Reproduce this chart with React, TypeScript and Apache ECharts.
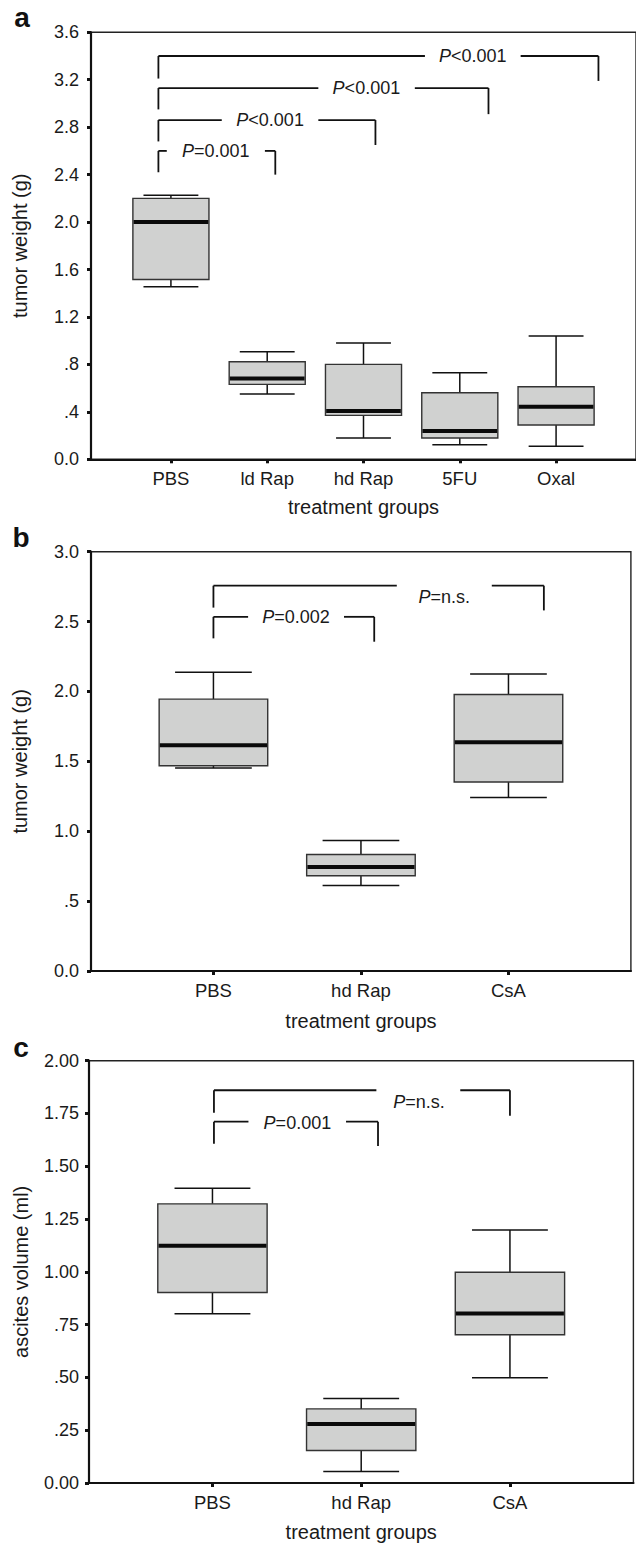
import React, { useEffect, useRef } from "react";
import * as echarts from "echarts";

// ---------- data ----------
const catsA = ["PBS", "ld Rap", "hd Rap", "5FU", "Oxal"];
// [min, q1, median, q3, max]
const boxesA = [
  [1.454, 1.516, 2.0, 2.2, 2.227],
  [0.55, 0.632, 0.682, 0.822, 0.907],
  [0.18, 0.37, 0.407, 0.8, 0.98],
  [0.123, 0.18, 0.239, 0.561, 0.73],
  [0.11, 0.289, 0.443, 0.612, 1.04],
];
const yLabelsA = ["0.0", ".4", ".8", "1.2", "1.6", "2.0", "2.4", "2.8", "3.2", "3.6"];

const catsB = ["PBS", "hd Rap", "CsA"];
const boxesB = [
  [1.452, 1.469, 1.615, 1.945, 2.137],
  [0.612, 0.682, 0.744, 0.833, 0.933],
  [1.242, 1.352, 1.637, 1.978, 2.125],
];
const yLabelsB = ["0.0", ".5", "1.0", "1.5", "2.0", "2.5", "3.0"];

const catsC = ["PBS", "hd Rap", "CsA"];
const boxesC = [
  [0.802, 0.902, 1.124, 1.322, 1.396],
  [0.055, 0.154, 0.279, 0.351, 0.4],
  [0.498, 0.702, 0.803, 0.998, 1.198],
];
const yLabelsC = ["0.00", ".25", ".50", ".75", "1.00", "1.25", "1.50", "1.75", "2.00"];

// significance brackets: [xLeft, xRight, yLine, yLeftEnd, yRightEnd, gapStart, gapEnd, textX, textY]
const bracketsA = [
  [0.87, 2.084, 2.6, 2.42, 2.4, 0.957, 1.976, 1.466, 2.6],
  [0.87, 3.124, 2.86, 2.68, 2.65, 1.528, 2.531, 2.03, 2.86],
  [0.87, 4.298, 3.13, 2.95, 2.91, 2.531, 3.533, 3.03, 3.13],
  [0.87, 5.44, 3.4, 3.21, 3.19, 3.638, 4.632, 4.135, 3.4],
];
const bracketTextA = ["=0.001", "<0.001", "<0.001", "<0.001"];

const bracketsB = [
  [1.0, 2.09, 2.534, 2.38, 2.356, 1.235, 1.885, 1.56, 2.53],
  [1.0, 3.24, 2.757, 2.6, 2.58, 2.243, 2.887, 2.565, 2.673],
];
const bracketTextB = ["=0.002", "=n.s."];

const bracketsC = [
  [1.01, 2.113, 1.711, 1.607, 1.596, 1.242, 1.898, 1.571, 1.705],
  [1.01, 3.0, 1.86, 1.753, 1.739, 2.102, 2.666, 2.388, 1.805],
];
const bracketTextC = ["=0.001", "=n.s."];

// ---------- style ----------
const FONT = "'Liberation Sans', Arial, Helvetica, sans-serif";
const TXT = "#1a1a1a";

function boxSeries(idx: number, boxes: number[][], boxW: number, capW: number) {
  return {
    type: "custom",
    xAxisIndex: idx,
    yAxisIndex: idx,
    data: boxes.map((b, i) => [i + 1, ...b]),
    renderItem: (params: any, api: any) => {
      const x = api.value(0);
      const lo = api.coord([x, api.value(1)]);
      const q1 = api.coord([x, api.value(2)]);
      const md = api.coord([x, api.value(3)]);
      const q3 = api.coord([x, api.value(4)]);
      const hi = api.coord([x, api.value(5)]);
      const bw = api.size([boxW, 0])[0];
      const cw = api.size([capW, 0])[0];
      const cx = lo[0];
      const ls = { stroke: "#111", lineWidth: 1.5 };
      return {
        type: "group",
        children: [
          { type: "line", shape: { x1: cx, y1: hi[1], x2: cx, y2: q3[1] }, style: ls },
          { type: "line", shape: { x1: cx, y1: q1[1], x2: cx, y2: lo[1] }, style: ls },
          { type: "line", shape: { x1: cx - cw / 2, y1: hi[1], x2: cx + cw / 2, y2: hi[1] }, style: ls },
          { type: "line", shape: { x1: cx - cw / 2, y1: lo[1], x2: cx + cw / 2, y2: lo[1] }, style: ls },
          {
            type: "rect",
            shape: { x: cx - bw / 2, y: q3[1], width: bw, height: q1[1] - q3[1] },
            style: { fill: "#d0d1d0", stroke: "#333", lineWidth: 1.4 },
          },
          {
            type: "line",
            shape: { x1: cx - bw / 2 + 0.7, y1: md[1], x2: cx + bw / 2 - 0.7, y2: md[1] },
            style: { stroke: "#0a0a0a", lineWidth: 4 },
          },
        ],
      };
    },
  };
}

function bracketSeries(idx: number, brackets: number[][], texts: string[]) {
  return {
    type: "custom",
    xAxisIndex: idx,
    yAxisIndex: idx,
    data: brackets,
    renderItem: (params: any, api: any) => {
      const v = (k: number) => api.value(k);
      const pL = api.coord([v(0), v(2)]);
      const pR = api.coord([v(1), v(2)]);
      const eL = api.coord([v(0), v(3)]);
      const eR = api.coord([v(1), v(4)]);
      const g1 = api.coord([v(5), v(2)]);
      const g2 = api.coord([v(6), v(2)]);
      const t = api.coord([v(7), v(8)]);
      const ls = { stroke: "#111", lineWidth: 1.8 };
      return {
        type: "group",
        children: [
          { type: "line", shape: { x1: eL[0], y1: eL[1], x2: pL[0], y2: pL[1] }, style: ls },
          { type: "line", shape: { x1: pL[0], y1: pL[1], x2: g1[0], y2: g1[1] }, style: ls },
          { type: "line", shape: { x1: g2[0], y1: g2[1], x2: pR[0], y2: pR[1] }, style: ls },
          { type: "line", shape: { x1: pR[0], y1: pR[1], x2: eR[0], y2: eR[1] }, style: ls },
          {
            type: "text",
            x: t[0],
            y: t[1],
            style: {
              text: "{p|P}{n|" + texts[params.dataIndex] + "}",
              align: "center",
              verticalAlign: "middle",
              fill: TXT,
              fontSize: 18,
              fontFamily: FONT,
              rich: {
                p: { fontStyle: "italic", fontSize: 18, fontFamily: FONT, fill: TXT },
                n: { fontSize: 18, fontFamily: FONT, fill: TXT },
              },
            },
          },
        ],
      };
    },
  };
}

function xAxisFor(idx: number, cats: string[], max: number, nameGap: number) {
  const vals = cats.map((_, i) => i + 1);
  return {
    type: "value",
    gridIndex: idx,
    min: 0.17,
    max,
    name: "treatment groups",
    nameLocation: "middle",
    nameGap,
    nameTextStyle: { fontSize: 20, fontFamily: FONT, color: TXT },
    axisLine: { show: true, onZero: false, lineStyle: { color: "#111", width: 2.2 } },
    axisTick: { show: true, customValues: vals, length: 4, lineStyle: { color: "#111", width: 3 } },
    axisLabel: {
      show: true,
      customValues: vals,
      margin: 10,
      fontSize: 18.5,
      fontFamily: FONT,
      color: TXT,
      formatter: (v: number) => cats[Math.round(v) - 1] ?? "",
    },
    splitLine: { show: false },
  };
}

function yAxisFor(idx: number, labels: string[], step: number, name: string, nameGap: number, margin: number) {
  return {
    type: "value",
    gridIndex: idx,
    min: 0,
    max: step * (labels.length - 1),
    interval: step,
    name,
    nameLocation: "middle",
    nameGap,
    nameTextStyle: { fontSize: 20, fontFamily: FONT, color: TXT },
    axisLine: { show: true, lineStyle: { color: "#111", width: 2.2 } },
    axisTick: { show: true, length: 4, lineStyle: { color: "#111", width: 3 } },
    axisLabel: {
      margin,
      fontSize: 18,
      fontFamily: FONT,
      color: TXT,
      formatter: (v: number) => labels[Math.round(v / step)] ?? "",
    },
    splitLine: { show: false },
  };
}

export default function App() {
  const ref = useRef<HTMLDivElement>(null);
  useEffect(() => {
    if (!ref.current) return;
    const chart = echarts.init(ref.current, null, { renderer: "svg" });
    const border = { show: true, borderColor: "#222", borderWidth: 1.4, backgroundColor: "transparent" };
    chart.setOption({
      animation: false,
      backgroundColor: "#ffffff",
      grid: [
        { left: 91, top: 32.3, width: 550.7, height: 427, ...border },
        { left: 91, top: 551.7, width: 539.9, height: 419.3, ...border },
        { left: 89, top: 1060.7, width: 544.4, height: 426.6, ...border },
      ],
      xAxis: [
        xAxisFor(0, catsA, 5.83, 38),
        xAxisFor(1, catsB, 3.83, 40),
        xAxisFor(2, catsC, 3.83, 39),
      ],
      yAxis: [
        yAxisFor(0, yLabelsA, 0.4, "tumor weight (g)", 61, 12),
        yAxisFor(1, yLabelsB, 0.5, "tumor weight (g)", 61, 12),
        yAxisFor(2, yLabelsC, 0.25, "ascites volume (ml)", 58, 10),
      ],
      graphic: [
        { type: "text", x: 22, y: 17.6, style: { text: "a", font: `bold 28px ${FONT}`, fill: "#111", align: "center", verticalAlign: "middle" } },
        { type: "text", x: 21, y: 537, style: { text: "b", font: `bold 28px ${FONT}`, fill: "#111", align: "center", verticalAlign: "middle" } },
        { type: "text", x: 21, y: 1047.6, style: { text: "c", font: `bold 28px ${FONT}`, fill: "#111", align: "center", verticalAlign: "middle" } },
      ],
      series: [
        boxSeries(0, boxesA, 0.79, 0.57),
        bracketSeries(0, bracketsA, bracketTextA),
        boxSeries(1, boxesB, 0.736, 0.52),
        bracketSeries(1, bracketsB, bracketTextB),
        boxSeries(2, boxesC, 0.735, 0.51),
        bracketSeries(2, bracketsC, bracketTextC),
      ],
    });
    return () => chart.dispose();
  }, []);
  return (
    <div
      ref={ref}
      style={{ position: "absolute", left: 0, top: 0, width: 636, height: 1543, background: "#fff" }}
    />
  );
}
